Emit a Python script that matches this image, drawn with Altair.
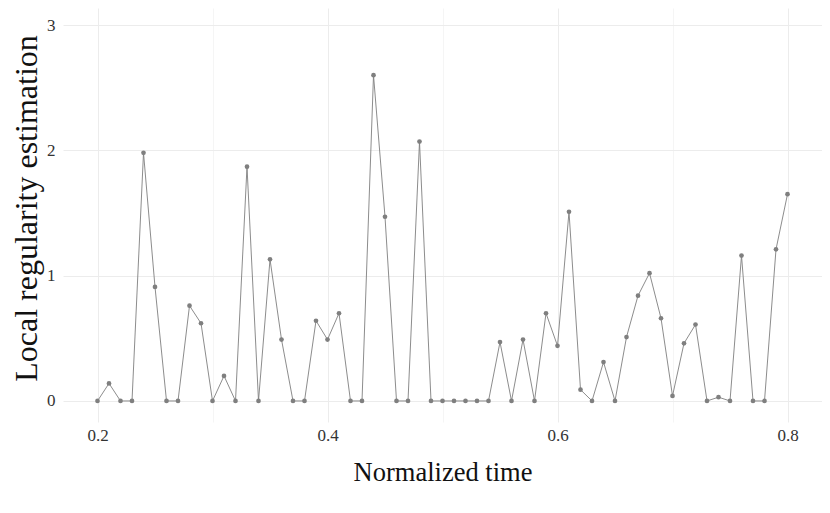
import altair as alt
import pandas as pd

times = [round(0.20 + 0.01 * i, 2) for i in range(61)]
values = [
    0.00, 0.14, 0.00, 0.00, 1.98, 0.91, 0.00, 0.00, 0.76, 0.62,
    0.00, 0.20, 0.00, 1.87, 0.00, 1.13, 0.49, 0.00, 0.00, 0.64,
    0.49, 0.70, 0.00, 0.00, 2.60, 1.47, 0.00, 0.00, 2.07, 0.00,
    0.00, 0.00, 0.00, 0.00, 0.00, 0.47, 0.00, 0.49, 0.00, 0.70,
    0.44, 1.51, 0.09, 0.00, 0.31, 0.00, 0.51, 0.84, 1.02, 0.66,
    0.04, 0.46, 0.61, 0.00, 0.03, 0.00, 1.16, 0.00, 0.00, 1.21,
    1.65,
]
x_grid = [0.2, 0.3, 0.4, 0.5, 0.6, 0.7, 0.8]
x_labels = ["0.2", "0.4", "0.6", "0.8"]
y_grid = [0, 0.5, 1, 1.5, 2, 2.5, 3]

df = pd.DataFrame({"t": times, "v": values})

FONT = "Liberation Serif"
GREY = "#7f7f7f"

x_enc = alt.X(
    "t:Q",
    scale=alt.Scale(domain=[0.17, 0.83], nice=False, zero=False),
    axis=alt.Axis(
        values=x_grid,
        format=".1f",
        labelExpr="indexof(['0.2','0.4','0.6','0.8'], datum.label) >= 0 ? datum.label : ''",
        title="Normalized time",
        ticks=False,
        domain=False,
        labelFont=FONT,
        labelFontSize=17,
        labelColor="#333333",
        labelPadding=5,
        titleFont=FONT,
        titleFontSize=26.5,
        titleFontWeight="normal",
        titleColor="#111111",
        titlePadding=16,
        gridColor={"condition": {"test": "indexof([0.2,0.4,0.6,0.8], datum.value) >= 0", "value": "#ececec"}, "value": "#f5f5f5"},
    ),
)
y_enc = alt.Y(
    "v:Q",
    scale=alt.Scale(domain=[-0.168, 3.136], nice=False, zero=False),
    axis=alt.Axis(
        values=y_grid,
        format="d",
        labelExpr="datum.value % 1 == 0 ? datum.label : ''",
        title="Local regularity estimation",
        ticks=False,
        domain=False,
        labelFont=FONT,
        labelFontSize=17,
        labelColor="#333333",
        labelPadding=8,
        titleFont=FONT,
        titleFontSize=32,
        titleFontWeight="normal",
        titleColor="#111111",
        titlePadding=3,
        titleY=200,
        gridColor={"condition": {"test": "datum.value % 1 == 0", "value": "#ececec"}, "value": "#f5f5f5"},
    ),
)

base = alt.Chart(df).encode(x=x_enc, y=y_enc)
line = base.mark_line(color=GREY, strokeWidth=0.9)
pts = base.mark_circle(color=GREY, size=22, opacity=1)

chart = (
    alt.layer(line, pts)
    .properties(
        width=759,
        height=414,
        background="white",
        autosize=alt.AutoSizeParams(type="none"),
        padding={"left": 55, "top": 0, "right": 0, "bottom": 80},
    )
    .configure_view(strokeWidth=0, stroke="transparent")
)

chart.save("out.html", embed_options={"renderer": "svg", "actions": False})
